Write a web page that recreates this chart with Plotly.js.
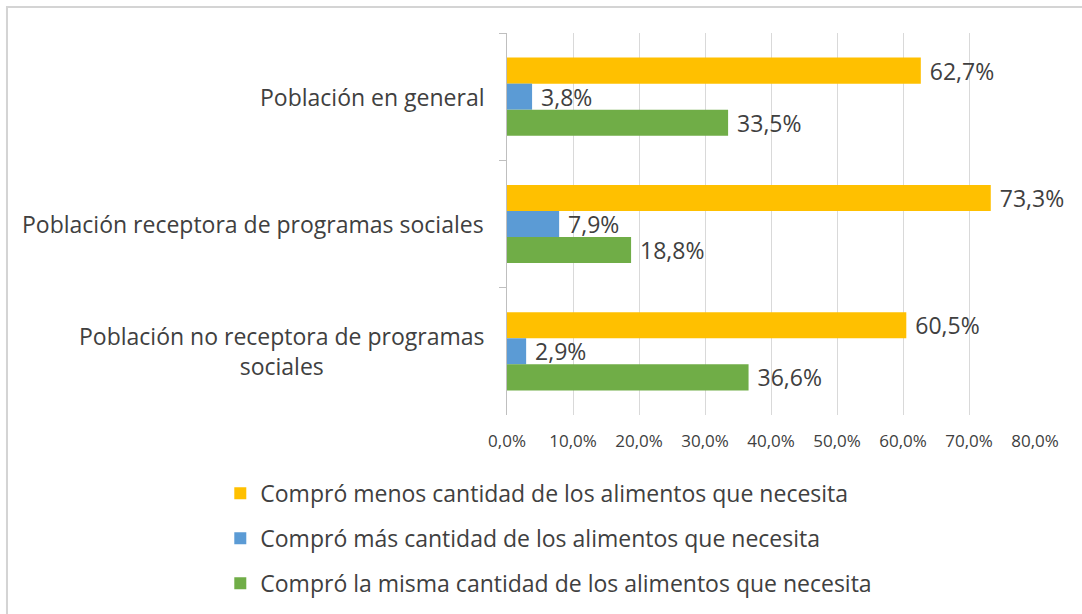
<!DOCTYPE html>
<html>
<head>
<meta charset="utf-8">
<script src="https://cdn.plot.ly/plotly-3.0.1.min.js"></script>
<style>
  html, body { margin: 0; padding: 0; background: #ffffff; }
  #chart { width: 1082px; height: 614px; }
</style>
</head>
<body>
<div id="chart"></div>
<script>
const categories = [
  "Población en general",
  "Población receptora de programas sociales",
  "Población no receptora de programas<br>sociales"
];
const seriesNames = [
  "Compró menos cantidad de los alimentos que necesita",
  "Compró más cantidad de los alimentos que necesita",
  "Compró la misma cantidad de los alimentos que necesita"
];
const menos = [62.7, 73.3, 60.5];
const mas = [3.8, 7.9, 2.9];
const misma = [33.5, 18.8, 36.6];
const xTicks = [0, 10, 20, 30, 40, 50, 60, 70, 80];

const colors = ["#FFC000", "#5B9BD5", "#70AD47"];
const values = [menos, mas, misma];
const FONT = "'Open Sans', sans-serif";
const TXT = "#404040";

const traces = values.map((v, i) => ({
  type: "bar",
  orientation: "h",
  name: seriesNames[i],
  x: v,
  y: categories,
  marker: { color: colors[i] },
  text: v.map(n => "\u00a0" + n.toFixed(1).replace(".", ",") + "%"),
  textposition: "outside",
  constraintext: "none",
  textfont: { family: FONT, size: 23, color: TXT },
  cliponaxis: false,
  legendgroup: "g" + i,
  hoverinfo: "x+y"
}));

const annotations = categories.map(c => ({
  xref: "paper", yref: "y",
  x: -0.04, y: c,
  xanchor: "right", yanchor: "middle",
  align: "center",
  text: c,
  showarrow: false,
  font: { family: FONT, size: 23, color: TXT }
}));

const layout = {
  width: 1082, height: 614,
  margin: { l: 507, r: 47, t: 33, b: 199, autoexpand: false },
  paper_bgcolor: "#ffffff",
  plot_bgcolor: "#ffffff",
  separators: ",.",
  barmode: "group",
  bargap: 0.386,
  bargroupgap: 0,
  showlegend: true,
  legend: {
    x: -0.543, y: -0.149, xanchor: "left", yanchor: "top",
    orientation: "v",
    traceorder: "grouped",
    tracegroupgap: 12,
    font: { family: FONT, size: 23, color: TXT },
    itemwidth: 30
  },
  xaxis: {
    range: [0, 80],
    tickvals: xTicks,
    ticktext: xTicks.map(t => t.toFixed(1).replace(".", ",") + "%"),
    showgrid: true, gridcolor: "#d9d9d9", gridwidth: 1,
    zeroline: false, showline: false,
    ticks: "",
    ticklabelstandoff: 14,
    tickfont: { family: FONT, size: 17, color: TXT },
    fixedrange: true
  },
  yaxis: {
    type: "category",
    autorange: "reversed",
    showticklabels: false,
    showline: true, linecolor: "#bfbfbf", linewidth: 1,
    ticks: "outside", tickson: "boundaries", ticklen: 7, tickcolor: "#bfbfbf",
    showgrid: false, zeroline: false,
    fixedrange: true
  },
  annotations: annotations,
  shapes: [{
    type: "rect", xref: "paper", yref: "paper",
    x0: -0.947, x1: 1.2, y0: -0.6, y1: 1.068,
    line: { color: "#d4d4d4", width: 2 },
    fillcolor: "rgba(0,0,0,0)",
    layer: "below"
  }]
};

Plotly.newPlot("chart", traces, layout, { displayModeBar: false, staticPlot: true });
</script>
</body>
</html>
